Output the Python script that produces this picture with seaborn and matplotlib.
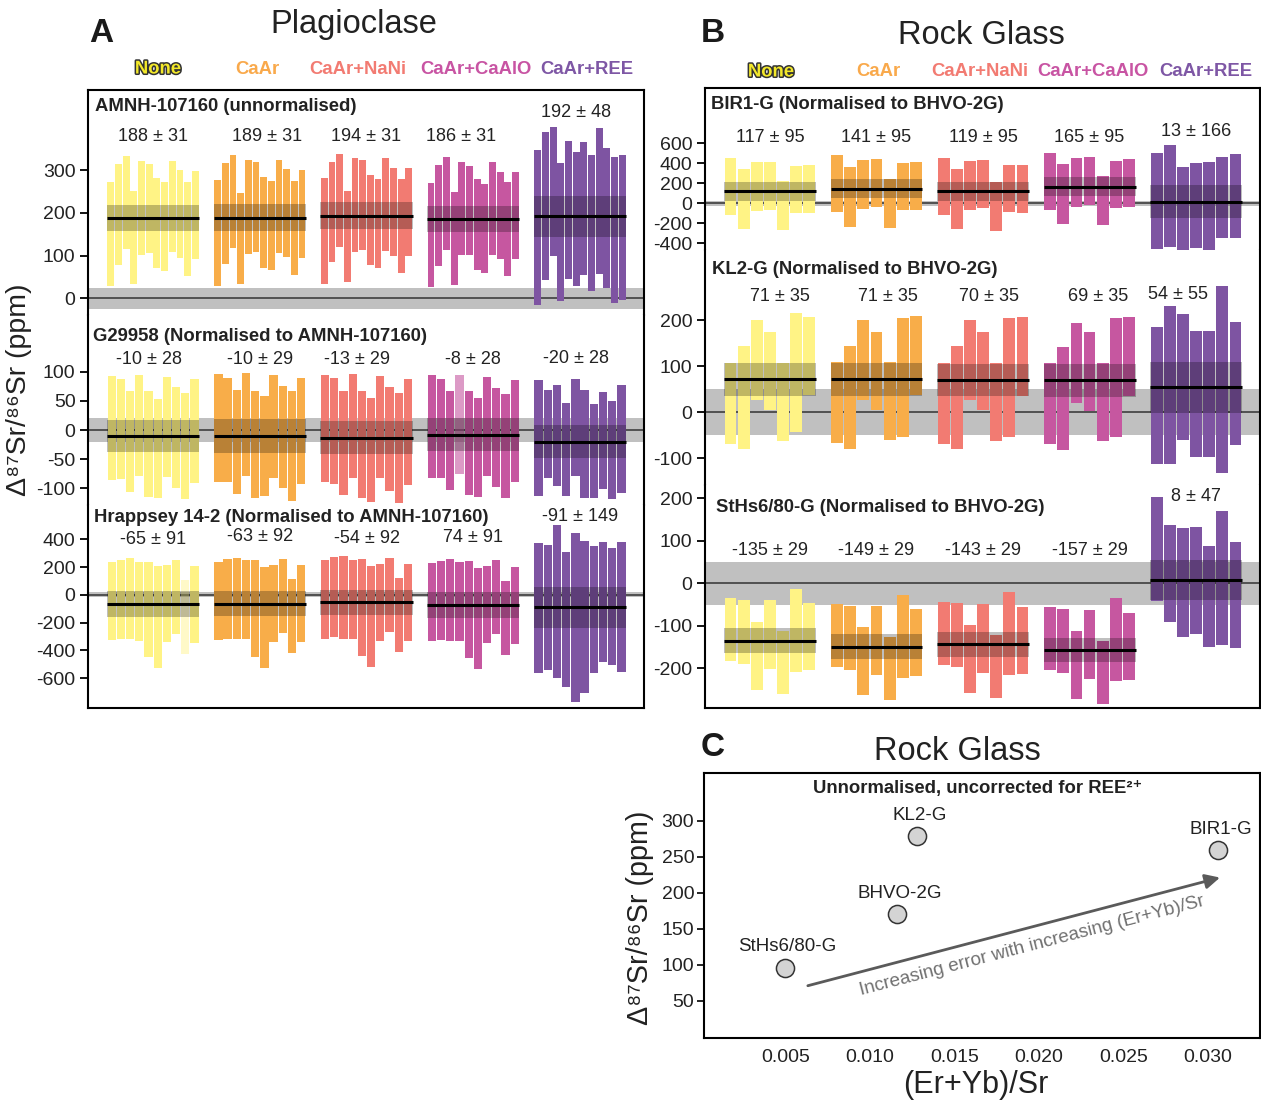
import numpy as np
import pandas as pd
import matplotlib
matplotlib.use("Agg")
import matplotlib.pyplot as plt
import matplotlib.patheffects as pe
import seaborn as sns

# ---------------- data ----------------
groups = ["None", "CaAr", "CaAr+NaNi", "CaAr+CaAlO", "CaAr+REE"]
bar_colors = ["#FFF385", "#F8AD49", "#F27B72", "#C657A0", "#7E54A2"]
head_colors = ["#F3E82A", "#F9A94B", "#F27B72", "#C854A3", "#7E57A5"]

# Panel A - AMNH-107160 (unnormalised): 12 analyses per correction
amnh_hi = [[273, 315, 334, 252, 322, 315, 282, 273, 322, 301, 273, 298],
           [277, 317, 336, 247, 324, 319, 284, 275, 324, 303, 275, 301],
           [282, 319, 338, 252, 329, 324, 290, 280, 328, 305, 280, 305],
           [270, 312, 331, 249, 319, 310, 280, 268, 319, 296, 273, 296],
           [348, 390, 401, 318, 369, 343, 366, 336, 399, 352, 331, 336]]
amnh_lo = [[30, 79, 116, 34, 102, 107, 70, 65, 109, 95, 53, 93],
           [30, 81, 119, 34, 105, 109, 72, 67, 107, 98, 55, 95],
           [34, 84, 121, 39, 109, 113, 77, 72, 112, 100, 60, 100],
           [27, 76, 114, 32, 102, 102, 67, 60, 102, 91, 53, 91],
           [-15, 44, 100, -6, 46, 30, 55, 18, 58, 25, -10, -3]]
amnh_mean = [188, 189, 194, 186, 192]
amnh_err = [31, 31, 31, 31, 48]

# Panel A - G29958
g29_hi = [[93, 88, 67, 95, 67, 53, 91, 74, 64, 88],
          [97, 90, 69, 98, 67, 59, 95, 76, 67, 90],
          [95, 90, 67, 97, 67, 55, 93, 74, 64, 88],
          [95, 88, 67, 95, 67, 55, 91, 72, 62, 86],
          [86, 69, 78, 47, 88, 69, 45, 66, 50, 78]]
g29_lo = [[-86, -85, -107, -79, -116, -117, -81, -100, -118, -91],
          [-89, -90, -110, -79, -117, -113, -82, -100, -122, -93],
          [-89, -93, -112, -82, -117, -124, -82, -105, -126, -95],
          [-83, -82, -104, -75, -112, -116, -79, -98, -117, -89],
          [-114, -82, -96, -114, -79, -117, -117, -101, -118, -109]]
g29_mean = [-10, -10, -13, -8, -20]
g29_err = [28, 29, 29, 28, 28]

# Panel A - Hrappsey 14-2
hr_hi = [[235, 249, 264, 235, 235, 206, 211, 249, 105, 206],
         [235, 256, 264, 249, 249, 199, 213, 256, 113, 213],
         [249, 271, 278, 249, 256, 206, 220, 264, 120, 220],
         [228, 242, 256, 235, 242, 192, 206, 249, 98, 199],
         [371, 357, 501, 307, 443, 386, 350, 379, 336, 379]]
hr_lo = [[-324, -317, -319, -331, -446, -525, -338, -281, -425, -346],
         [-324, -319, -319, -319, -446, -525, -338, -274, -418, -338],
         [-317, -302, -317, -317, -439, -518, -331, -266, -410, -331],
         [-331, -324, -331, -331, -454, -533, -346, -281, -432, -353],
         [-561, -540, -597, -662, -770, -705, -561, -482, -504, -554]]
hr_mean = [-65, -63, -54, -74, -91]
hr_err = [91, 92, 92, 91, 149]
hr_labels = ["-65 ± 91", "-63 ± 92", "-54 ± 92", "74 ± 91", "-91 ± 149"]

# Panel B - BIR1-G
bir_hi = [[450, 340, 410, 410, 217, 370, 380],
          [480, 360, 430, 440, 240, 400, 410],
          [450, 340, 420, 430, 207, 380, 380],
          [500, 390, 450, 460, 270, 420, 440],
          [500, 580, 360, 400, 410, 460, 490]]
bir_lo = [[-117, -257, -77, -67, -270, -97, -97],
          [-87, -237, -57, -37, -247, -67, -67],
          [-117, -257, -67, -47, -277, -87, -97],
          [-67, -207, -37, -17, -217, -47, -37],
          [-460, -440, -490, -450, -470, -350, -347]]
bir_mean = [117, 141, 119, 165, 13]
bir_err = [95, 95, 95, 95, 166]

# Panel B - KL2-G
kl_hi = [[106, 144, 200, 174, 106, 215, 207],
         [109, 144, 200, 174, 109, 205, 209],
         [106, 144, 200, 174, 106, 205, 207],
         [106, 142, 194, 174, 106, 205, 207],
         [185, 231, 213, 176, 176, 274, 196]]
kl_lo = [[-69, -79, 27, 5, -62, -42, 38],
         [-67, -79, 27, 5, -60, -53, 38],
         [-69, -79, 27, 5, -62, -53, 35],
         [-69, -81, 20, 3, -62, -53, 35],
         [-112, -112, -60, -98, -98, -131, -71]]
kl_mean = [71, 71, 70, 69, 54]
kl_err = [35, 35, 35, 35, 55]

# Panel B - StHs6/80-G
sths_hi = [[-35, -39, -91, -39, -111, -13, -46],
           [-49, -53, -103, -53, -126, -27, -61],
           [-44, -46, -97, -49, -122, -21, -56],
           [-56, -61, -112, -63, -136, -35, -70],
           [203, 136, 129, 133, 88, 169, 98]]
sths_lo = [[-182, -190, -251, -202, -260, -208, -204],
           [-196, -203, -262, -216, -274, -222, -218],
           [-191, -196, -257, -210, -269, -216, -213],
           [-203, -210, -271, -224, -283, -229, -227],
           [-41, -90, -126, -119, -149, -144, -151]]
sths_mean = [-135, -149, -143, -157, 8]
sths_err = [29, 29, 29, 29, 47]

# Panel C
c_names = ["StHs6/80-G", "BHVO-2G", "KL2-G", "BIR1-G"]
c_ratio = [0.00495, 0.0116, 0.01276, 0.03063]
c_delta = [96, 170, 278, 259]

# ---------------- style ----------------
sns.set_theme(style="ticks")
FONT = ["Liberation Sans", "DejaVu Sans"]
plt.rcParams["font.family"] = FONT
plt.rcParams["axes.linewidth"] = 1.5
plt.rcParams["axes.unicode_minus"] = False
plt.rcParams["xtick.color"] = "black"
plt.rcParams["ytick.color"] = "black"
plt.rcParams["text.color"] = "#222222"

W, H = 1261, 1102
fig = plt.figure(figsize=(W / 100, H / 100), dpi=100)


def px_axes(x0, y0, x1, y1):
    return fig.add_axes([x0 / W, 1 - y1 / H, (x1 - x0) / W, (y1 - y0) / H])


def ftext(px, py, s, **kw):
    fig.text(px / W, 1 - py / H, s, **kw)


GW = 0.863
XLIM = (-0.61, 4.60)
VAL_FS = 13
TITLE_FS = 13.3
TICK_FS = 14


def draw_sub(ax, hi, lo, means, errs, labels, label_y, title, tpos, ylim,
             yticks, band, spines, faded=None, label_dx=None):
    faded = faded or {}
    label_dx = label_dx or [0] * 5
    ax.set_xlim(*XLIM)
    ax.set_ylim(*ylim)
    ax.axhspan(-band, band, color="#C0C0C0", lw=0, zorder=0)
    ax.axhline(0, color="#505050", lw=1.4, zorder=0.5)
    for g in range(5):
        n = len(hi[g])
        w = GW / n
        x = g - GW / 2 + (np.arange(n) + 0.5) * w
        h = np.array(hi[g]) - np.array(lo[g])
        bars = ax.bar(x, h, bottom=lo[g], width=w * 0.9, color=bar_colors[g],
                      lw=0, zorder=2)
        for i, a in faded.get(g, {}).items():
            bars[i].set_alpha(a)
        ax.fill_between([g - GW / 2, g + GW / 2], means[g] - errs[g],
                        means[g] + errs[g], color="black", alpha=0.25, lw=0,
                        zorder=3)
        ax.plot([g - GW / 2, g + GW / 2], [means[g]] * 2, color="black",
                lw=2.2, zorder=4, solid_capstyle="butt")
        ax.text(g + label_dx[g], label_y[g], labels[g], ha="center",
                va="center", fontsize=VAL_FS, color="#222222", zorder=5)
    ax.text(tpos[0], tpos[1], title, transform=ax.transAxes, ha="left",
            va="center", fontsize=TITLE_FS, fontweight="bold", color="#222222")
    ax.set_xticks([])
    ax.set_yticks(yticks)
    ax.tick_params(axis="y", length=6, width=1.3, labelsize=TICK_FS, pad=3,
                   labelcolor="#222222")
    for s in ["top", "bottom", "left", "right"]:
        ax.spines[s].set_visible(s in spines)
        ax.spines[s].set_color("black")
        ax.spines[s].set_linewidth(1.5)
    ax.set_facecolor("white")
    ax.grid(False)


def lab(means, errs):
    return [f"{m} ± {e}" for m, e in zip(means, errs)]


# ---------------- Panel A ----------------
axA1 = px_axes(88, 90, 644, 315)
axA2 = px_axes(88, 315, 644, 505)
axA3 = px_axes(88, 505, 644, 708)
draw_sub(axA1, amnh_hi, amnh_lo, amnh_mean, amnh_err, lab(amnh_mean, amnh_err),
         [379, 379, 379, 379, 435], "AMNH-107160 (unnormalised)", (0.013, 0.926),
         (-39, 488), [0, 100, 200, 300], 24, ["top", "left", "right"],
         label_dx=[0, 0.07, 0, -0.11, -0.04])
draw_sub(axA2, g29_hi, g29_lo, g29_mean, g29_err, lab(g29_mean, g29_err),
         [121, 121, 121, 121, 123], "G29958 (Normalised to AMNH-107160)",
         (0.009, 0.889), (-129, 198), [-100, -50, 0, 50, 100], 20,
         ["left", "right"], faded={3: {3: 0.6}},
         label_dx=[-0.04, 0, -0.09, 0, -0.04])
draw_sub(axA3, hr_hi, hr_lo, hr_mean, hr_err, hr_labels,
         [400, 419, 404, 412, 563], "Hrappsey 14-2 (Normalised to AMNH-107160)",
         (0.011, 0.939), (-814, 646), [-600, -400, -200, 0, 200, 400], 18,
         ["left", "right", "bottom"], faded={0: {8: 0.45}})

# ---------------- Panel B ----------------
axB1 = px_axes(705, 88, 1260, 250)
axB2 = px_axes(705, 250, 1260, 485)
axB3 = px_axes(705, 485, 1260, 708)
draw_sub(axB1, bir_hi, bir_lo, bir_mean, bir_err, lab(bir_mean, bir_err),
         [650, 650, 650, 650, 710], "BIR1-G (Normalised to BHVO-2G)",
         (0.011, 0.897), (-470, 1150), [-400, -200, 0, 200, 400, 600], 25,
         ["top", "left", "right"])
draw_sub(axB2, kl_hi, kl_lo, kl_mean, kl_err, lab(kl_mean, kl_err),
         [251, 251, 251, 251, 256], "KL2-G (Normalised to BHVO-2G)",
         (0.012, 0.915), (-158, 352), [-100, 0, 100, 200], 50,
         ["left", "right"], label_dx=[0.09, 0.11, 0.06, 0.08, -0.17])
draw_sub(axB3, sths_hi, sths_lo, sths_mean, sths_err, lab(sths_mean, sths_err),
         [78, 78, 78, 78, 205], "StHs6/80-G (Normalised to BHVO-2G)",
         (0.02, 0.898), (-293, 231), [-200, -100, 0, 100, 200], 50,
         ["left", "right", "bottom"])

# headers
hdrA_x = [158, 257, 358, 476, 587]
hdrB_x = [771, 878, 980, 1093, 1206]
for xs, yy in [(hdrA_x, 69), (hdrB_x, 72)]:
    for g in range(5):
        kw = dict(ha="center", va="center", fontsize=13.3, fontweight="bold",
                  color=head_colors[g])
        if g == 0:
            kw["path_effects"] = [pe.withStroke(linewidth=2.2, foreground="#333333")]
        ftext(xs[g], yy, groups[g], **kw)

for px, py, s in [(101, 33, "A"), (713, 33, "B"), (713, 748, "C")]:
    ftext(px, py, s, ha="center", va="center", fontsize=24, fontweight="bold",
          color="#1a1a1a")
ftext(354, 25, "Plagioclase", ha="center", va="center", fontsize=23.5)
ftext(981, 35, "Rock Glass", ha="center", va="center", fontsize=23.5)
ftext(957, 751, "Rock Glass", ha="center", va="center", fontsize=23.5)

YLAB = "Δ⁸⁷Sr/⁸⁶Sr (ppm)"
ftext(19, 390, YLAB, rotation=90, ha="center", va="center", fontsize=20.5)
ftext(640, 918, YLAB, rotation=90, ha="center", va="center", fontsize=20.7)

# ---------------- Panel C ----------------
axC = px_axes(704, 773, 1260, 1038)
dfc = pd.DataFrame({"name": c_names, "ratio": c_ratio, "delta": c_delta})
sns.scatterplot(data=dfc, x="ratio", y="delta", ax=axC, s=170,
                color="#D4D4D4", edgecolor="#333333", linewidth=1.1, zorder=5,
                legend=False)
axC.set_xlim(0.00017, 0.0331)
axC.set_ylim(-1.5, 366)
axC.set_xticks([0.005, 0.010, 0.015, 0.020, 0.025, 0.030])
axC.set_xticklabels(["0.005", "0.010", "0.015", "0.020", "0.025", "0.030"])
axC.set_yticks([50, 100, 150, 200, 250, 300])
axC.tick_params(axis="y", length=5, width=1.2, labelsize=14, pad=2,
                labelcolor="#222222")
axC.tick_params(axis="x", length=0, labelsize=14, pad=8, labelcolor="#222222")
axC.set_xlabel("")
axC.set_ylabel("")
for s in axC.spines.values():
    s.set_visible(True)
    s.set_linewidth(1.5)
    s.set_color("black")
for _, r in dfc.iterrows():
    axC.annotate(r["name"], (r["ratio"], r["delta"]), xytext=(2, 15),
                 textcoords="offset points", ha="center", va="center",
                 fontsize=13.5, color="#222222")
axC.annotate("", xy=(0.03073, 221), xytext=(0.00632, 71),
             arrowprops=dict(arrowstyle="-|>", color="#5A5A5A", lw=2,
                             mutation_scale=22, shrinkA=0, shrinkB=0))
axC.text(0.01962, 126.5, "Increasing error with increasing (Er+Yb)/Sr",
         rotation=14.6, rotation_mode="anchor", ha="center", va="center",
         fontsize=13.6, color="#707070")
axC.text(0.493, 0.943, "Unnormalised, uncorrected for REE²⁺",
         transform=axC.transAxes, ha="center", va="center", fontsize=13.3,
         fontweight="bold", color="#222222")
ftext(976, 1085, "(Er+Yb)/Sr", ha="center", va="center", fontsize=22)

fig.savefig("out.png", dpi=100)
